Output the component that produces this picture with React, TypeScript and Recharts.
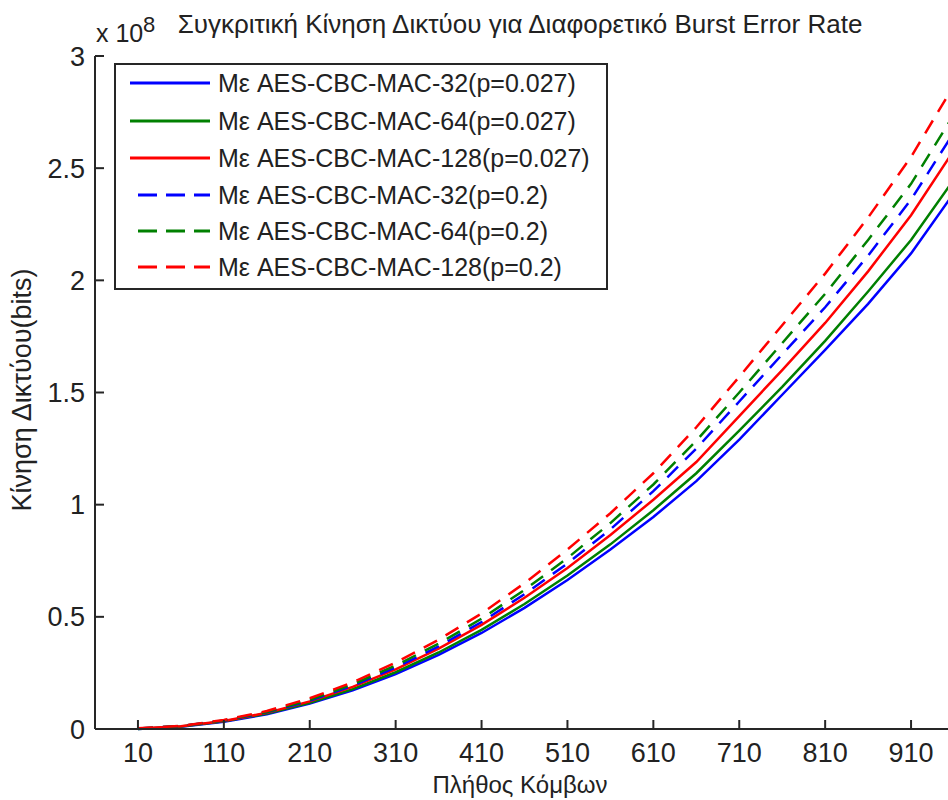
import { Legend, Line, LineChart, XAxis, YAxis } from "recharts";

const FONT = "'Liberation Sans', Arial, sans-serif";
const AXIS_COLOR = "#262626";

// number of nodes (x) and network traffic in units of 1e8 bits (y)
const nodes = [10, 60, 110, 160, 210, 260, 310, 360, 410, 460, 510, 560, 610, 660, 710, 760, 810, 860, 910, 960];

const aes32Low = [0, 0.01, 0.032, 0.066, 0.113, 0.172, 0.245, 0.33, 0.428, 0.54, 0.664, 0.8, 0.945, 1.105, 1.29, 1.49, 1.69, 1.895, 2.12, 2.39];
const aes64Low = [0, 0.011, 0.034, 0.069, 0.117, 0.178, 0.253, 0.341, 0.442, 0.557, 0.684, 0.823, 0.975, 1.14, 1.33, 1.525, 1.73, 1.95, 2.18, 2.45];
const aes128Low = [0.002, 0.012, 0.036, 0.072, 0.123, 0.188, 0.266, 0.358, 0.464, 0.585, 0.718, 0.865, 1.022, 1.19, 1.395, 1.6, 1.81, 2.04, 2.29, 2.58];
const aes32High = [0.002, 0.013, 0.037, 0.074, 0.126, 0.193, 0.274, 0.368, 0.477, 0.601, 0.738, 0.89, 1.06, 1.25, 1.46, 1.67, 1.88, 2.11, 2.36, 2.66];
const aes64High = [0.002, 0.013, 0.038, 0.076, 0.13, 0.199, 0.283, 0.38, 0.492, 0.62, 0.762, 0.918, 1.09, 1.285, 1.5, 1.72, 1.94, 2.18, 2.43, 2.74];
const aes128High = [0.003, 0.014, 0.04, 0.08, 0.137, 0.208, 0.296, 0.398, 0.515, 0.65, 0.8, 0.962, 1.14, 1.345, 1.57, 1.8, 2.03, 2.28, 2.55, 2.87];

const xTicks = [10, 110, 210, 310, 410, 510, 610, 710, 810, 910];
const yTicks = [0, 0.5, 1, 1.5, 2, 2.5, 3];

const seriesConfigs = [
  { id: "aes32Low", label: "Με AES-CBC-MAC-32(p=0.027)", color: "#0000ff", dashed: false, values: aes32Low },
  { id: "aes64Low", label: "Με AES-CBC-MAC-64(p=0.027)", color: "#008000", dashed: false, values: aes64Low },
  { id: "aes128Low", label: "Με AES-CBC-MAC-128(p=0.027)", color: "#ff0000", dashed: false, values: aes128Low },
  { id: "aes32High", label: "Με AES-CBC-MAC-32(p=0.2)", color: "#0000ff", dashed: true, values: aes32High },
  { id: "aes64High", label: "Με AES-CBC-MAC-64(p=0.2)", color: "#008000", dashed: true, values: aes64High },
  { id: "aes128High", label: "Με AES-CBC-MAC-128(p=0.2)", color: "#ff0000", dashed: true, values: aes128High }
];

const chartData = nodes.map((n, i) => {
  const row: Record<string, number> = { nodes: n };
  seriesConfigs.forEach((s) => {
    row[s.id] = s.values[i];
  });
  return row;
});

const DASH = "15 10";

function XTick({ x, y, payload }: any) {
  return (
    <g>
      <line x1={x} x2={x} y1={y} y2={y - 9} stroke={AXIS_COLOR} strokeWidth={2} />
      <text x={x} y={y + 33} textAnchor="middle" fontSize={27} fill="#222" fontFamily={FONT}>
        {payload.value}
      </text>
    </g>
  );
}

function YTick({ x, y, payload }: any) {
  return (
    <g>
      <line x1={x} x2={x + 9} y1={y} y2={y} stroke={AXIS_COLOR} strokeWidth={2} />
      <text x={x - 10} y={y + 9.5} textAnchor="end" fontSize={27} fill="#222" fontFamily={FONT}>
        {payload.value}
      </text>
    </g>
  );
}

function LegendBox() {
  const rowY = [20, 58, 95, 132, 168, 204];
  return (
    <svg width={494} height={227} style={{ display: "block" }}>
      <rect x={1} y={1} width={492} height={225} fill="#fff" stroke={AXIS_COLOR} strokeWidth={2} />
      {seriesConfigs.map((s, i) => (
        <g key={s.id}>
          <line
            x1={s.dashed ? 24 : 16}
            x2={96}
            y1={rowY[i]}
            y2={rowY[i]}
            stroke={s.color}
            strokeWidth={3}
            strokeDasharray={s.dashed ? "19 9" : undefined}
          />
          <text x={104} y={rowY[i] + 8.5} fontSize={25} fill="#222" fontFamily={FONT}>
            {s.label}
          </text>
        </g>
      ))}
    </svg>
  );
}

export default function App() {
  return (
    <div
      style={{
        position: "absolute",
        left: 0,
        top: 0,
        width: 948,
        height: 800,
        overflow: "hidden",
        background: "#fff"
      }}
    >
      <LineChart width={954} height={800} data={chartData} margin={{ top: 56, right: 0, bottom: 31, left: 0 }}>
        <XAxis
          dataKey="nodes"
          type="number"
          domain={[-40, 960]}
          ticks={xTicks}
          allowDataOverflow
          height={40}
          tickSize={0}
          tickMargin={0}
          tick={<XTick />}
          axisLine={{ stroke: AXIS_COLOR, strokeWidth: 2 }}
          tickLine={false}
        />
        <YAxis
          type="number"
          domain={[0, 3]}
          ticks={yTicks}
          width={95}
          tickSize={0}
          tickMargin={0}
          tick={<YTick />}
          axisLine={{ stroke: AXIS_COLOR, strokeWidth: 2 }}
          tickLine={false}
        />
        <Legend
          layout="vertical"
          align="center"
          verticalAlign="middle"
          wrapperStyle={{ left: 114, top: 63, width: 494, height: 227 }}
          content={() => <LegendBox />}
        />
        {seriesConfigs.map((s) => (
          <Line
            key={s.id}
            type="linear"
            dataKey={s.id}
            stroke={s.color}
            strokeWidth={2.5}
            strokeDasharray={s.dashed ? DASH : undefined}
            dot={false}
            activeDot={false}
            isAnimationActive={false}
          />
        ))}
      </LineChart>
      <svg
        width={948}
        height={800}
        style={{ position: "absolute", left: 0, top: 0, pointerEvents: "none" }}
      >
        <text x={520} y={33} textAnchor="middle" fontSize={26} fill="#222" fontFamily={FONT}>
          Συγκριτική Κίνηση Δικτύου για Διαφορετικό Burst Error Rate
        </text>
        <text x={96} y={42} fontSize={25} fill="#222" fontFamily={FONT}>
          x 10
        </text>
        <text x={143} y={32} fontSize={22} fill="#222" fontFamily={FONT}>
          8
        </text>
        <text
          x={0}
          y={0}
          transform="translate(31 390) rotate(-90)"
          textAnchor="middle"
          fontSize={27}
          fill="#222"
          fontFamily={FONT}
        >
          Κίνηση Δικτύου(bits)
        </text>
        <text x={520} y={793} textAnchor="middle" fontSize={24} fill="#222" fontFamily={FONT}>
          Πλήθος Κόμβων
        </text>
      </svg>
    </div>
  );
}
